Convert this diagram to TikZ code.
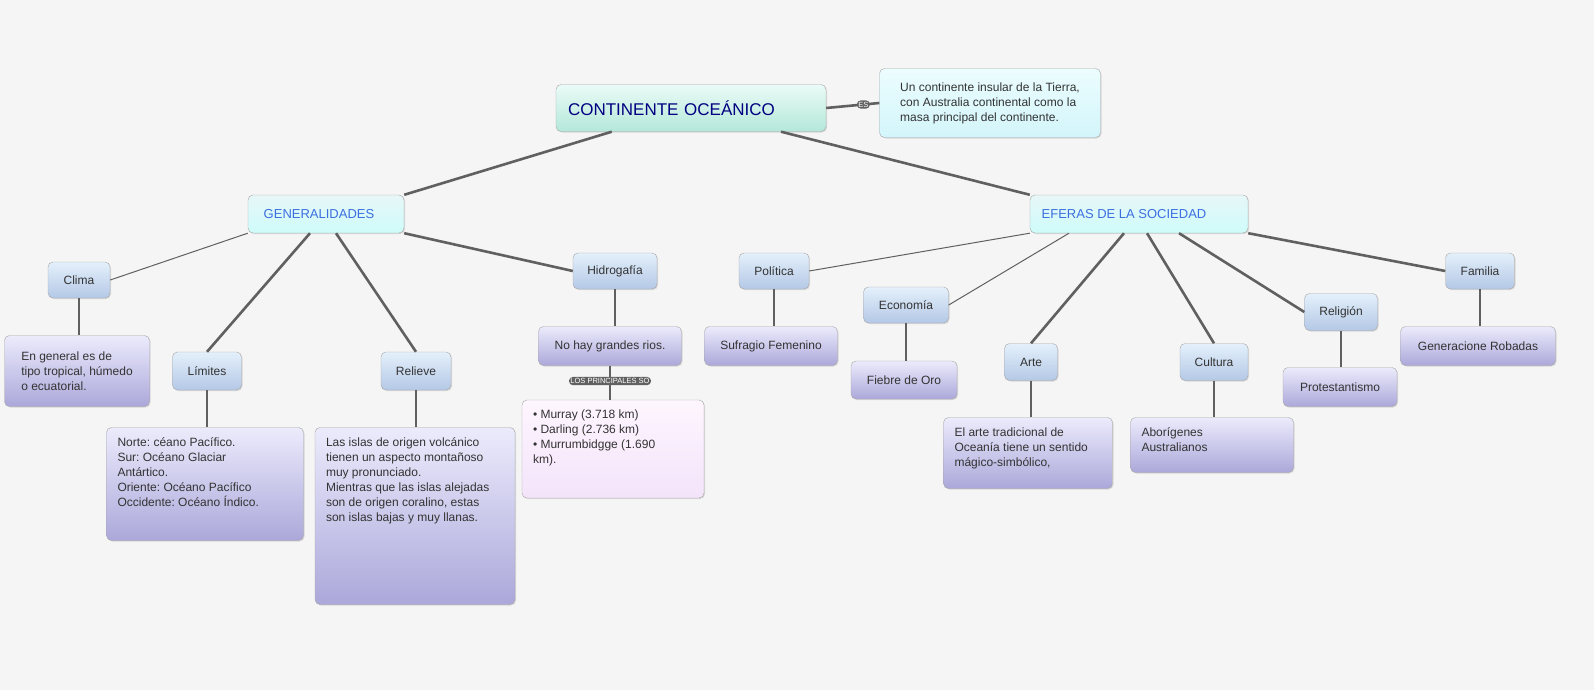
\documentclass[tikz,border=0pt]{standalone}
\usepackage{fontspec}
\setmainfont{Liberation Sans}
\frenchspacing
\usetikzlibrary{shadows}
\definecolor{bgcol}{HTML}{F5F5F5}
\definecolor{linkcol}{HTML}{606060}
\definecolor{topblue}{HTML}{E4F0FB}
\definecolor{botblue}{HTML}{B4C8E6}
\definecolor{toppurp}{HTML}{ECEBFC}
\definecolor{botpurp}{HTML}{ABA8DA}
\definecolor{topteal}{HTML}{EAFBF6}
\definecolor{botteal}{HTML}{B4E8DA}
\definecolor{titleblue}{HTML}{3D6FE0}
\newcommand{\notetext}[3]{\parbox[c][#2pt][t]{#1pt}{\raggedright #3}}
\tikzset{
  box/.style={draw=gray!70, rounded corners=5pt, drop shadow={opacity=0.25,shadow xshift=1pt,shadow yshift=-1pt},
    font=\fontsize{12}{15}\selectfont, text=black!80, inner sep=0pt},
  topic/.style={box, top color=topblue, bottom color=botblue},
  note/.style={box, top color=toppurp, bottom color=botpurp, align=left},
  tall note/.style={note, inner xsep=11pt, inner ysep=10pt},
  head/.style={box, top color=topteal!60!topblue, bottom color=botteal!50!cyan!30, text=titleblue, font=\fontsize{13}{15}\selectfont},
  link/.style={draw=linkcol, line width=2.6pt},
  thin link/.style={draw=linkcol, line width=1pt},
  pill/.style={fill=linkcol, text=white, rounded corners=4pt, inner sep=1.5pt, font=\fontsize{7.5}{8}\selectfont}
}
\begin{document}
\begin{tikzpicture}[x=1pt,y=-1pt]
\fill[bgcol] (0,0) rectangle (1594,690);
\useasboundingbox (0,0) rectangle (1594,690);

% nodes
\node[box, top color=topteal, bottom color=botteal, minimum width=270pt, minimum height=47pt, text width=246pt, align=left, text=blue!50!black, font=\fontsize{17}{20}\selectfont] (main) at (691,108) {CONTINENTE OCEÁNICO};
\node[topic, top color=topblue!70!cyan!20, bottom color=botblue!60!cyan!30, minimum width=221pt, minimum height=69pt, align=left] (desc) at (990,103)
  {Un continente insular de la Tierra,\\con Australia continental como la\\masa principal del continente.};
\node[head, minimum width=156pt, minimum height=38pt] (gen) at (326,214) {GENERALIDADES\hspace*{14pt}};
\node[head, minimum width=218pt, minimum height=38pt] (efe) at (1139,214) {EFERAS DE LA SOCIEDAD\hspace*{30pt}};

\node[topic, minimum width=62pt, minimum height=36pt] (clima) at (79,280) {Clima};
\node[note, minimum width=145pt, minimum height=71pt] (climaT) at (77,371) {En general es de\\tipo tropical, húmedo\\o ecuatorial.\hspace*{30pt}};
\node[topic, minimum width=69pt, minimum height=38pt] (lim) at (207,371) {Límites};
\node[tall note] (limT) at (205,484) {\notetext{175}{93}{Norte: céano Pacífico.\\Sur: Océano Glaciar\\Antártico.\\Oriente: Océano Pacífico\\Occidente: Océano Índico.}};
\node[topic, minimum width=70pt, minimum height=38pt] (rel) at (416,371) {Relieve};
\node[tall note] (relT) at (415,516) {\notetext{178}{157}{Las islas de origen volcánico\\tienen un aspecto montañoso\\muy pronunciado.\\Mientras que las islas alejadas\\son de origen coralino, estas\\son islas bajas y muy llanas.}};
\node[topic, minimum width=84pt, minimum height=36pt] (hid) at (615,271) {Hidrogafía};
\node[note, minimum width=143pt, minimum height=39pt] (hidT) at (610,346) {No hay grandes rios.};
\node[tall note, top color=toppurp!60!magenta!8, bottom color=botpurp!70!magenta!20] (rios) at (613,449)
  {\notetext{160}{78}{• Murray (3.718 km)\\• Darling (2.736 km)\\• Murrumbidgge (1.690\\km).}};

\node[topic, minimum width=70pt, minimum height=36pt] (pol) at (774,271) {Política};
\node[note, minimum width=133pt, minimum height=39pt] (polT) at (771,346) {Sufragio Femenino};
\node[topic, minimum width=85pt, minimum height=36pt] (eco) at (906,305) {Economía};
\node[note, minimum width=106pt, minimum height=38pt] (ecoT) at (904,380) {Fiebre de Oro};
\node[topic, minimum width=53pt, minimum height=37pt] (arte) at (1031,362) {Arte};
\node[tall note] (arteT) at (1028,453) {\notetext{147}{51}{El arte tradicional de\\Oceanía tiene un sentido\\mágico-simbólico,}};
\node[topic, minimum width=68pt, minimum height=37pt] (cul) at (1214,362) {Cultura};
\node[tall note] (culT) at (1212,445) {\notetext{141}{35}{Aborígenes\\Australianos}};
\node[topic, minimum width=73pt, minimum height=37pt] (reli) at (1341,312) {Religión};
\node[note, minimum width=114pt, minimum height=39pt] (reliT) at (1340,387) {Protestantismo};
\node[topic, minimum width=69pt, minimum height=36pt] (fam) at (1480,271) {Familia};
\node[note, minimum width=155pt, minimum height=39pt] (famT) at (1478,346) {Generacione Robadas};

% connectors
\path (main.south west) ++(56,0) coordinate (m1);
\draw[link] (m1) -- (gen.north east);
\path (main.south) ++(90,0) coordinate (m3);
\draw[link] (m3) -- (efe.north west);
\draw[link] (main.east) -- node[pill, pos=0.7] {ES} (desc.west);

\draw[thin link] (gen.south west) -- (clima.east);
\path (gen.south) ++(-16,0) coordinate (g1);
\draw[link] (g1) -- (lim.north);
\path (gen.south) ++(10,0) coordinate (g2);
\draw[link] (g2) -- (rel.north);
\draw[link] (gen.south east) -- (hid.west);
\draw[link] (clima.south) -- (climaT.north -| clima.south);
\draw[link] (lim.south) -- (limT.north -| lim.south);
\draw[link] (rel.south) -- (relT.north -| rel.south);
\draw[link] (hid.south) -- (hidT.north -| hid.south);
\draw[link] (hidT.south) -- node[pill, pos=0.45] {LOS PRINCIPALES SO} (rios.north -| hidT.south);

\draw[thin link] (efe.south west) -- (pol.east);
\path (efe.south) ++(-70,0) coordinate (e1);
\draw[thin link] (e1) -- (eco.east);
\path (efe.south) ++(-15,0) coordinate (e2);
\draw[link] (e2) -- (arte.north);
\path (efe.south) ++(8,0) coordinate (e3);
\draw[link] (e3) -- (cul.north);
\path (efe.south) ++(40,0) coordinate (e4);
\draw[link] (e4) -- (reli.west);
\draw[link] (efe.south east) -- (fam.west);
\draw[link] (pol.south) -- (polT.north -| pol.south);
\draw[link] (eco.south) -- (ecoT.north -| eco.south);
\draw[link] (arte.south) -- (arteT.north -| arte.south);
\draw[link] (cul.south) -- (culT.north -| cul.south);
\draw[link] (reli.south) -- (reliT.north -| reli.south);
\draw[link] (fam.south) -- (famT.north -| fam.south);
\end{tikzpicture}
\end{document}
